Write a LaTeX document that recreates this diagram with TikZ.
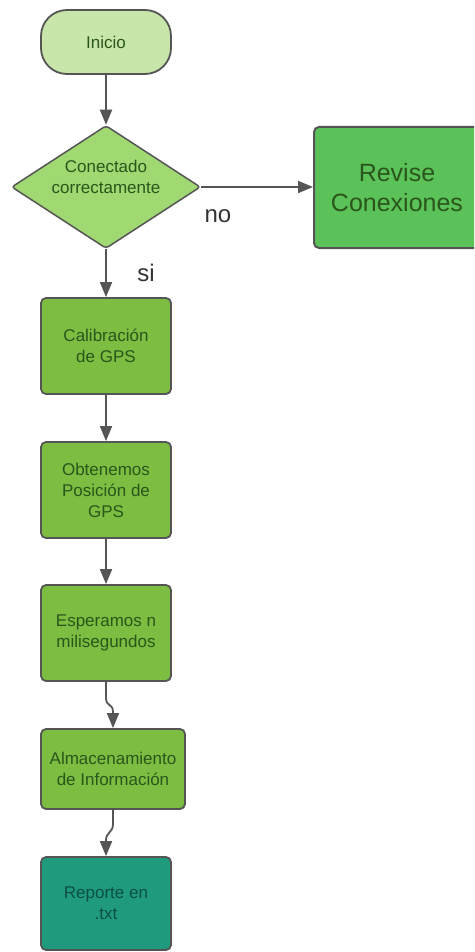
\documentclass[tikz,border=0pt]{standalone}
\usepackage{fontspec}
\setmainfont{Liberation Sans}
\usetikzlibrary{shapes.geometric,arrows.meta,calc}

\definecolor{startfill}{HTML}{C8E6A9}
\definecolor{decfill}{HTML}{A0D872}
\definecolor{revfill}{HTML}{5BC25A}
\definecolor{procfill}{HTML}{7CBD42}
\definecolor{repfill}{HTML}{209A7C}
\definecolor{edge}{HTML}{555555}
\definecolor{txtgreen}{HTML}{2A561B}
\definecolor{txtteal}{HTML}{0C5040}

\tikzset{
  smalltext/.style={font=\fontsize{17}{21}\selectfont, text=txtgreen, align=center},
  startbox/.style={draw=edge, line width=1.8pt, fill=startfill, rounded corners=26pt,
    minimum width=130pt, minimum height=64pt, inner sep=0pt, smalltext},
  decbox/.style={draw=edge, line width=1.5pt, fill=decfill, diamond, rounded corners=3pt,
    minimum width=189pt, minimum height=123pt, inner sep=0pt},
  procbox/.style={draw=edge, line width=1.8pt, fill=procfill, rounded corners=5pt,
    minimum width=130pt, minimum height=96pt, inner sep=0pt, smalltext},
  revbox/.style={draw=edge, line width=2pt, fill=revfill, rounded corners=5pt,
    minimum width=166pt, minimum height=121pt, inner sep=0pt,
    font=\fontsize{25}{30}\selectfont, text=txtgreen, align=center},
  repbox/.style={procbox, fill=repfill, text=txtteal, minimum height=93pt},
  flow/.style={draw=edge, line width=1.8pt, -{Triangle[width=12pt,length=15pt]}},
  edgelabel/.style={font=\fontsize{24}{28}\selectfont, text=black!80}
}

\begin{document}
\begin{tikzpicture}[x=1pt, y=-1pt]
  \useasboundingbox (0,0) rectangle (474,952);
  \clip (0,0) rectangle (474,952);

  % nodes
  \node[startbox] (start) at (106,42) {Inicio};
  \node[decbox] (dec) at (106,187) {};
  \node[smalltext] (dectxt) at (106,177) {Conectado\\correctamente};
  \node[revbox] (rev) at (397,187.5) {Revise\\Conexiones};
  \node[procbox] (cal) at (106,346) {Calibración\\de GPS};
  \node[procbox] (obt) at (106,490) {Obtenemos\\Posición de\\GPS};
  \node[procbox] (esp) at (106,633) {Esperamos n\\milisegundos};
  \node[procbox, minimum width=144pt, minimum height=80pt] (alm) at (113,769) {Almacenamiento\\de Información};
  \node[repbox] (rep) at (106,903.5) {Reporte en\\.txt};

  % connectors
  \draw[flow] (start.south) -- (dec.north);
  \draw[flow] (dec.east) -- (dec.east -| rev.west);
  \draw[flow] (dec.south) -- (cal.north);
  \draw[flow] (cal.south) -- (obt.north);
  \draw[flow] (obt.south) -- (esp.north);
  \draw[flow] (esp.south) -- ++(0,16)
    .. controls +(0,9) and ($(alm.north)+(0,-25)$) .. ($(alm.north)+(0,-16)$)
    -- (alm.north);
  \draw[flow] (alm.south) -- ++(0,14)
    .. controls +(0,9) and ($(rep.north)+(0,-24)$) .. ($(rep.north)+(0,-16)$)
    -- (rep.north);

  % branch labels
  \node[edgelabel] (nolbl) at (218,216) {no};
  \node[edgelabel] (silbl) at (146,273) {si};
\end{tikzpicture}
\end{document}
